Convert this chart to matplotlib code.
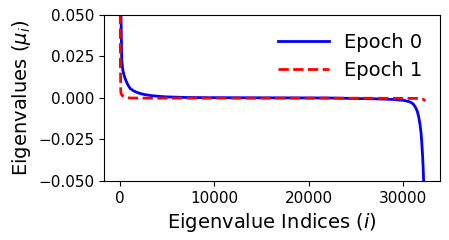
import numpy as np
import matplotlib.pyplot as plt

# values (index, eigenvalue)
idx_epoch0 = [0, 100, 180, 300, 450, 600, 800, 1060, 1400, 1770, 2200, 2650, 3500, 4770,
              7000, 9000, 15000, 22000, 27000, 29000, 30000, 30750, 31050, 31280, 31480,
              31640, 31780, 31890, 31980, 32060, 32120, 32160, 32220]
val_epoch0 = [0.09, 0.05, 0.0229, 0.0165, 0.0132, 0.0108, 0.0082, 0.0058, 0.0044, 0.0034,
              0.0026, 0.002, 0.0013, 0.0007, 0.0003, 0.0002, 0.0001, 0.0, -0.0005,
              -0.0009, -0.0014, -0.0024, -0.0036, -0.0054, -0.0078, -0.0114, -0.016,
              -0.021, -0.028, -0.0355, -0.043, -0.0496, -0.065]

idx_epoch1 = [0, 20, 40, 80, 130, 200, 350, 500, 700, 1000, 2000, 10000, 20000, 30000,
              31810, 32050, 32200, 32340]
val_epoch1 = [0.2, 0.06, 0.02, 0.0036, 0.0025, 0.0017, 0.001, 0.0005, 0.0002, 0.0,
              -0.0001, -0.0001, -0.0001, -0.0002, -0.0003, -0.0006, -0.0011, -0.0018]

fig = plt.figure(figsize=(4.49, 2.4), dpi=100)
ax = fig.add_axes([0.2316, 0.246, 0.7484, 0.6915])

ax.plot(idx_epoch0, val_epoch0, '-', color='blue', linewidth=2, label='Epoch 0')
ax.plot(idx_epoch1, val_epoch1, '--', color='red', linewidth=2, label='Epoch 1')

ax.set_xlim(-1700, 33900)
ax.set_ylim(-0.05, 0.05)
ax.set_xticks([0, 10000, 20000, 30000])
ax.set_yticks([-0.05, -0.025, 0.0, 0.025, 0.05])
ax.tick_params(labelsize=11)
ax.set_xlabel('Eigenvalue Indices ($i$)', fontsize=14)
ax.set_ylabel('Eigenvalues ($\\mu_i$)', fontsize=14)
ax.legend(loc='upper right', fontsize=14, frameon=False, handlelength=2.6)

fig.savefig('out.png', dpi=100)
